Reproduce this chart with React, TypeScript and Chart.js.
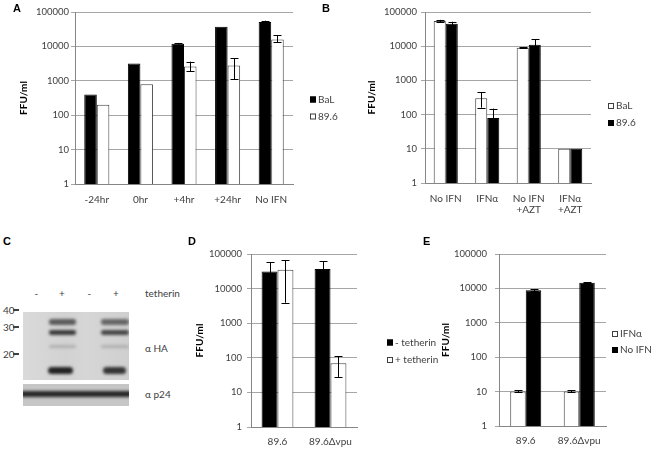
import React, { useEffect, useRef } from 'react';
import { Chart, registerables } from 'chart.js';
Chart.register(...registerables);

// ---------- data ----------
const yTicks = [1, 10, 100, 1000, 10000, 100000];

// Panel A
const catsA = ['-24hr', '0hr', '+4hr', '+24hr', 'No IFN'];
const balA = [400, 3200, 12000, 37000, 51000];
const balALow = [null, null, 11300, null, 46000];
const balAHigh = [null, null, 12600, null, 56000];
const s896A = [200, 800, 2600, 2800, 16000];
const s896ALow = [null, null, 1900, 1100, 13000];
const s896AHigh = [null, null, 3600, 4500, 21000];

// Panel B
const catsB = ['No IFN', 'IFNα', ['No IFN', '+AZT'], ['IFNα', '+AZT']];
const balB = [55000, 300, 9000, 10];
const balBLow = [51000, 160, 8600, null];
const balBHigh = [59000, 450, 9400, null];
const s896B = [45000, 80, 11000, 10];
const s896BLow = [40000, 10, 6000, null];
const s896BHigh = [52000, 150, 16000, null];

// Panel D
const catsD = ['89.6', '89.6Δvpu'];
const minusTeth = [31000, 37000];
const minusTethLow = [5000, 13000];
const minusTethHigh = [57000, 61000];
const plusTeth = [35000, 70];
const plusTethLow = [3900, 28];
const plusTethHigh = [66000, 110];

// Panel E
const catsE = ['89.6', '89.6Δvpu'];
const ifnE = [10, 10];
const ifnELow = [9.5, 9.5];
const ifnEHigh = [11, 11];
const noIfnE = [8800, 14500];
const noIfnELow = [8300, 14000];
const noIfnEHigh = [9300, 15000];

// ---------- plugins ----------
const errorBarPlugin = {
  id: 'errorBars',
  afterDatasetsDraw(chart: any) {
    const ctx = chart.ctx;
    const ys = chart.scales.y;
    chart.data.datasets.forEach((ds: any, i: number) => {
      const meta = chart.getDatasetMeta(i);
      meta.data.forEach((bar: any, j: number) => {
        const lo = ds.errLow?.[j];
        const hi = ds.errHigh?.[j];
        if (lo == null || hi == null) return;
        const x = Math.round(bar.x) + 0.5;
        const y1 = ys.getPixelForValue(lo);
        const y2 = ys.getPixelForValue(hi);
        ctx.save();
        ctx.strokeStyle = '#000';
        ctx.lineWidth = 1;
        ctx.beginPath();
        ctx.moveTo(x, y1);
        ctx.lineTo(x, y2);
        ctx.moveTo(x - 4, Math.round(y1) + 0.5);
        ctx.lineTo(x + 4, Math.round(y1) + 0.5);
        ctx.moveTo(x - 4, Math.round(y2) + 0.5);
        ctx.lineTo(x + 4, Math.round(y2) + 0.5);
        ctx.stroke();
        ctx.restore();
      });
    });
  },
};

const sideLegendPlugin = {
  id: 'sideLegend',
  afterDraw(chart: any, _args: any, opts: any) {
    const ctx = chart.ctx;
    ctx.save();
    chart.data.datasets.forEach((ds: any, i: number) => {
      const cy = opts.ys[i];
      const x = opts.x;
      ctx.fillStyle = ds.backgroundColor;
      ctx.fillRect(x, cy - 3, 6, 6);
      ctx.strokeStyle = ds.borderColor;
      ctx.lineWidth = 1;
      ctx.strokeRect(x + 0.5, cy - 2.5, 5, 5);
      ctx.fillStyle = '#404040';
      ctx.font = '10px Lato';
      ctx.textBaseline = 'middle';
      ctx.textAlign = 'left';
      ctx.fillText(ds.label, x + 8, cy);
    });
    ctx.restore();
  },
};

type Series = {
  label: string;
  data: number[];
  low: (number | null)[];
  high: (number | null)[];
  fill: string;
  border: string;
};

type PanelProps = {
  labels: any[];
  series: Series[];
  left: number;
  top: number;
  w: number;
  h: number;
  area: { left: number; right: number; top: number; bottom: number };
  pct: number;
  titlePad: number;
  yPad: number;
  xPad: number;
  legendX: number;
  legendYs: number[];
};

function BarPanel(p: PanelProps) {
  const ref = useRef<HTMLCanvasElement>(null);
  useEffect(() => {
    if (!ref.current) return;
    const chart = new Chart(ref.current, {
      type: 'bar',
      data: {
        labels: p.labels,
        datasets: p.series.map((s) => ({
          label: s.label,
          data: s.data,
          errLow: s.low,
          errHigh: s.high,
          backgroundColor: s.fill,
          borderColor: s.border,
          borderWidth: 1,
          categoryPercentage: p.pct,
          barPercentage: 1,
        })) as any,
      },
      options: {
        animation: false,
        responsive: false,
        events: [],
        layout: {
          padding: { top: p.area.top, right: p.w - p.area.right, left: 0, bottom: 0 },
        },
        plugins: {
          legend: { display: false },
          tooltip: { enabled: false },
          sideLegend: { x: p.legendX, ys: p.legendYs },
        } as any,
        scales: {
          x: {
            grid: { display: false, drawTicks: false },
            border: { display: true, color: '#868686', width: 1 },
            ticks: {
              font: { family: 'Lato', size: 10, lineHeight: 1.05 },
              color: '#404040',
              padding: p.xPad,
              maxRotation: 0,
              autoSkip: false,
            },
            afterFit: (s: any) => {
              s.height = p.h - p.area.bottom;
            },
          },
          y: {
            type: 'logarithmic',
            min: 1,
            max: 100000,
            afterBuildTicks: (s: any) => {
              s.ticks = yTicks.map((v) => ({ value: v }));
            },
            afterFit: (s: any) => {
              s.width = p.area.left;
            },
            ticks: {
              callback: (v: any) => String(v),
              font: { family: 'Lato', size: 9.5 },
              color: '#404040',
              padding: p.yPad,
              autoSkip: false,
            },
            grid: { color: '#a6a6a6', tickLength: 4, lineWidth: 1 },
            border: { display: true, color: '#868686', width: 1 },
            title: {
              display: true,
              text: 'FFU/ml',
              font: { family: 'Lato', size: 10, weight: 'bold' },
              color: '#000',
              padding: { top: p.titlePad, bottom: 0 },
            },
          },
        } as any,
      },
      plugins: [errorBarPlugin, sideLegendPlugin],
    });
    return () => chart.destroy();
  }, []);
  return (
    <canvas
      ref={ref}
      width={p.w}
      height={p.h}
      style={{ position: 'absolute', left: p.left, top: p.top, width: p.w, height: p.h }}
    />
  );
}

const txt = (s: string, x: number, y: number, extra: React.CSSProperties = {}) => (
  <div
    style={{
      position: 'absolute',
      left: x,
      top: y,
      transform: 'translateY(-50%)',
      lineHeight: 1,
      whiteSpace: 'nowrap',
      fontFamily: 'Lato',
      fontSize: 10,
      color: '#404040',
      ...extra,
    }}
  >
    {s}
  </div>
);

const letter = (s: string, x: number, y: number) =>
  txt(s, x, y, { fontFamily: 'Liberation Sans', fontWeight: 'bold', fontSize: 11, color: '#000' });

const band = (x: number, y: number, w: number, h: number, color: string, blur = 1.5) => (
  <div
    style={{
      position: 'absolute',
      left: x,
      top: y,
      width: w,
      height: h,
      background: color,
      borderRadius: h / 2,
      filter: `blur(${blur}px)`,
    }}
  />
);

export default function App() {
  const BLACK = '#000000';
  const WHITE = '#ffffff';
  const OUT = '#404040';
  return (
    <div
      style={{
        position: 'absolute',
        left: 0,
        top: 0,
        width: 661,
        height: 451,
        background: '#fff',
        overflow: 'hidden',
      }}
    >
      <BarPanel
        labels={catsA}
        series={[
          { label: 'BaL', data: balA, low: balALow, high: balAHigh, fill: BLACK, border: BLACK },
          { label: '89.6', data: s896A, low: s896ALow, high: s896AHigh, fill: WHITE, border: OUT },
        ]}
        left={0}
        top={0}
        w={345}
        h={225}
        area={{ left: 75, right: 293, top: 12, bottom: 184 }}
        pct={0.575}
        titlePad={17.5}
        yPad={2}
        xPad={11}
        legendX={310}
        legendYs={[99.5, 116.5]}
      />
      <BarPanel
        labels={catsB}
        series={[
          { label: 'BaL', data: balB, low: balBLow, high: balBHigh, fill: WHITE, border: OUT },
          { label: '89.6', data: s896B, low: s896BLow, high: s896BHigh, fill: BLACK, border: BLACK },
        ]}
        left={330}
        top={0}
        w={331}
        h={225}
        area={{ left: 95, right: 261, top: 12, bottom: 183 }}
        pct={0.58}
        titlePad={35.7}
        yPad={4}
        xPad={11}
        legendX={278}
        legendYs={[106, 123]}
      />
      <BarPanel
        labels={catsD}
        series={[
          { label: '- tetherin', data: minusTeth, low: minusTethLow, high: minusTethHigh, fill: BLACK, border: BLACK },
          { label: '+ tetherin', data: plusTeth, low: plusTethLow, high: plusTethHigh, fill: WHITE, border: OUT },
        ]}
        left={185}
        top={230}
        w={262}
        h={221}
        area={{ left: 66, right: 172, top: 24, bottom: 197 }}
        pct={0.6}
        titlePad={8.5}
        yPad={5}
        xPad={10}
        legendX={202}
        legendYs={[112.5, 130]}
      />
      <BarPanel
        labels={catsE}
        series={[
          { label: 'IFNα', data: ifnE, low: ifnELow, high: ifnEHigh, fill: WHITE, border: OUT },
          { label: 'No IFN', data: noIfnE, low: noIfnELow, high: noIfnEHigh, fill: BLACK, border: BLACK },
        ]}
        left={420}
        top={230}
        w={241}
        h={221}
        area={{ left: 79, right: 186, top: 24, bottom: 196 }}
        pct={0.58}
        titlePad={19.5}
        yPad={8}
        xPad={10}
        legendX={192}
        legendYs={[104, 120]}
      />

      {letter('A', 13, 8)}
      {letter('B', 322, 8)}
      {letter('C', 3, 241)}
      {letter('D', 188, 241)}
      {letter('E', 423, 241)}

      {/* Panel C: western blot */}
      {txt('-', 34.5, 293)}
      {txt('+', 59, 293)}
      {txt('-', 87.5, 293)}
      {txt('+', 113, 293)}
      {txt('tetherin', 145, 293)}
      {txt('40', 3, 309.5)}
      {txt('30', 3, 326.7)}
      {txt('20', 3, 354)}
      <div style={{ position: 'absolute', left: 13, top: 308.5, width: 6, height: 2, background: '#404040' }} />
      <div style={{ position: 'absolute', left: 13, top: 325.7, width: 6, height: 2, background: '#404040' }} />
      <div style={{ position: 'absolute', left: 13, top: 353, width: 6, height: 2, background: '#404040' }} />
      {txt('α HA', 145, 348)}
      {txt('α p24', 145, 394)}

      <div
        style={{
          position: 'absolute',
          left: 23,
          top: 312,
          width: 106,
          height: 68,
          background: 'linear-gradient(90deg, #dadada 0%, #d2d2d2 40%, #d6d6d6 60%, #cfcfcf 100%)',
          overflow: 'hidden',
        }}
      >
        {band(26, 7, 27, 5.5, 'rgba(60,60,60,0.8)')}
        {band(78, 7, 28, 5.5, 'rgba(65,65,65,0.75)')}
        {band(26, 18, 27, 4.5, 'rgba(40,40,40,0.9)')}
        {band(78, 18, 28, 4.5, 'rgba(45,45,45,0.85)')}
        {band(26, 33.2, 27, 3, 'rgba(140,140,140,0.5)')}
        {band(78, 33.2, 28, 3, 'rgba(140,140,140,0.5)')}
        {band(25, 54.5, 25, 7, 'rgba(25,25,25,0.95)')}
        {band(80, 54.5, 23, 7, 'rgba(35,35,35,0.9)')}
      </div>
      <div
        style={{
          position: 'absolute',
          left: 23,
          top: 383.5,
          width: 106,
          height: 22,
          background: '#c6c6c6',
          overflow: 'hidden',
        }}
      >
        {band(-3, 7.8, 112, 6, 'rgba(25,25,25,0.92)', 1.5)}
      </div>
    </div>
  );
}
